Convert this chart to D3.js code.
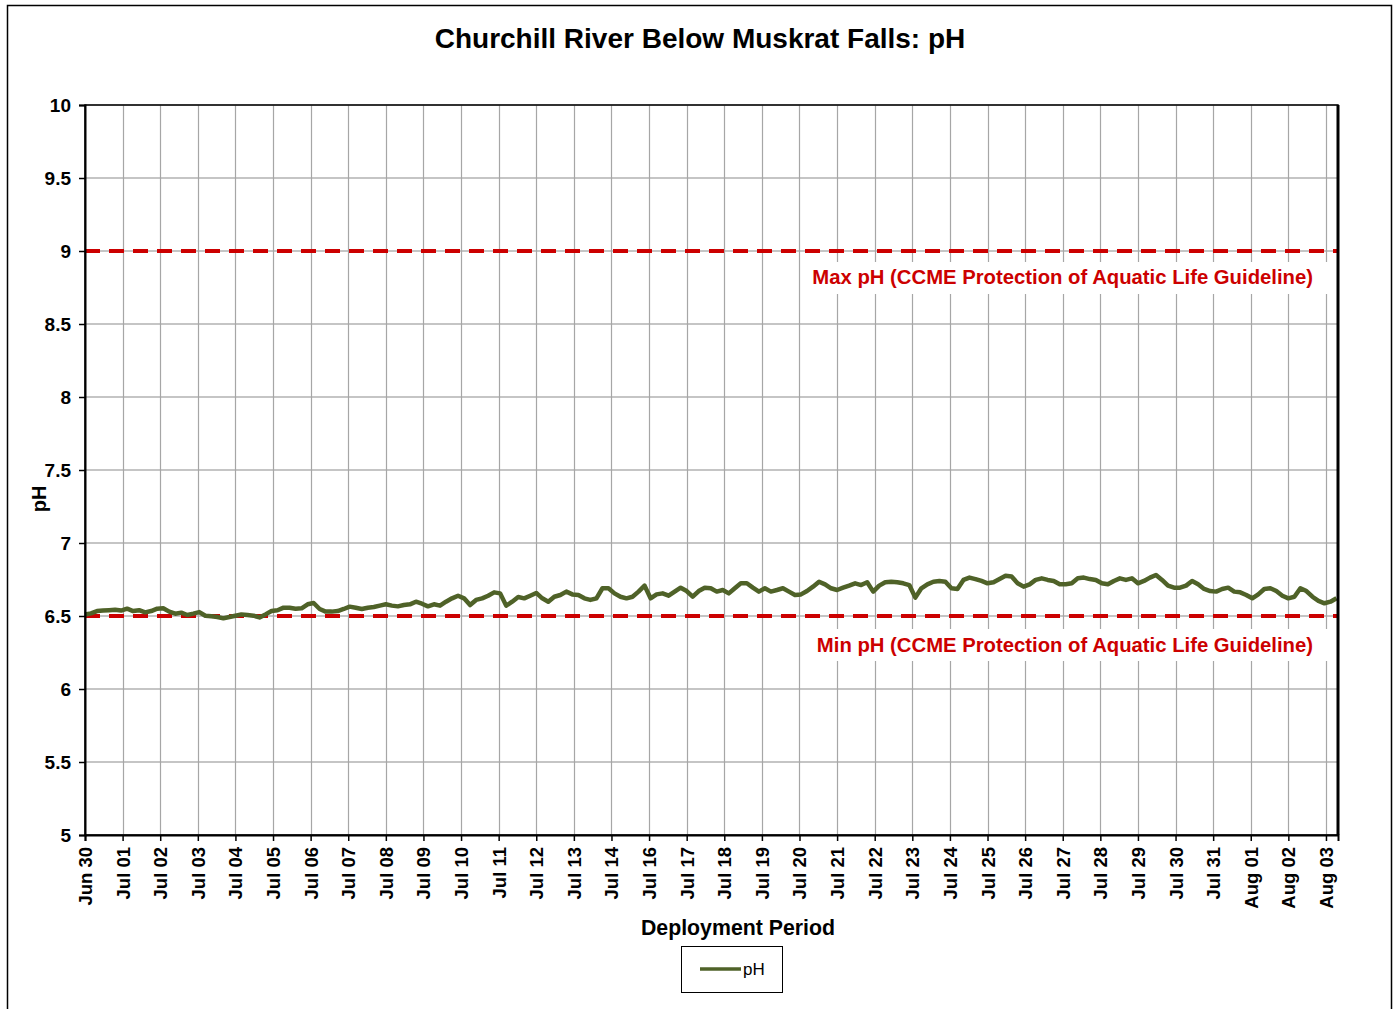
<!DOCTYPE html>
<html>
<head>
<meta charset="utf-8">
<script src="https://cdn.jsdelivr.net/npm/d3@7"></script>
<style>
  html, body { margin: 0; padding: 0; background: #fff; }
  svg { display: block; font-family: "Liberation Sans", Arial, sans-serif; }
</style>
</head>
<body>
<svg id="chart" width="1397" height="1009"></svg>
<script>
// Category labels along the time axis, one every 25 hourly readings
const tickLabels = [
  "Jun 30", "Jul 01", "Jul 02", "Jul 03", "Jul 04", "Jul 05", "Jul 06", "Jul 07",
  "Jul 08", "Jul 09", "Jul 10", "Jul 11", "Jul 12", "Jul 13", "Jul 14", "Jul 16",
  "Jul 17", "Jul 18", "Jul 19", "Jul 20", "Jul 21", "Jul 22", "Jul 23", "Jul 24",
  "Jul 25", "Jul 26", "Jul 27", "Jul 28", "Jul 29", "Jul 30", "Jul 31", "Aug 01",
  "Aug 02", "Aug 03"
];
const hoursPerTick = 25;
const hoursPerReading = 4;
const totalHours = 833;

// pH readings, one every 4 hours from the start of deployment
const phValues = [
  6.510, 6.518, 6.534, 6.537, 6.540, 6.543, 6.537, 6.550, 6.534, 6.540, 6.525, 6.534,
  6.550, 6.553, 6.530, 6.516, 6.523, 6.507, 6.516, 6.527, 6.502, 6.498, 6.493, 6.484,
  6.493, 6.502, 6.511, 6.507, 6.502, 6.490, 6.511, 6.534, 6.539, 6.557, 6.557, 6.550,
  6.553, 6.580, 6.589, 6.548, 6.530, 6.530,
  6.534, 6.548, 6.564, 6.557, 6.548, 6.557, 6.562, 6.571, 6.580, 6.571, 6.566, 6.575,
  6.580, 6.598, 6.584, 6.566, 6.580, 6.571, 6.598, 6.621, 6.639, 6.621, 6.575, 6.610,
  6.621, 6.639, 6.662, 6.655, 6.571, 6.598, 6.630, 6.621, 6.639, 6.658, 6.621, 6.598,
  6.632, 6.644, 6.667, 6.648, 6.644, 6.621,
  6.610, 6.621, 6.690, 6.690, 6.655, 6.632, 6.621, 6.632, 6.667, 6.708, 6.621, 6.648,
  6.655, 6.639, 6.667, 6.694, 6.671, 6.632, 6.671, 6.694, 6.690, 6.667, 6.678, 6.655,
  6.690, 6.724, 6.724, 6.694, 6.667, 6.690, 6.667, 6.678, 6.690, 6.667, 6.644, 6.648,
  6.671, 6.701, 6.735, 6.717, 6.690,
  6.678, 6.694, 6.708, 6.724, 6.712, 6.731, 6.667, 6.708, 6.731, 6.735, 6.731, 6.724,
  6.712, 6.626, 6.690, 6.717, 6.735, 6.740, 6.735, 6.690, 6.685, 6.747, 6.763, 6.753,
  6.740, 6.724, 6.731, 6.753, 6.776, 6.770, 6.724, 6.701, 6.717, 6.747, 6.758, 6.747,
  6.740, 6.717, 6.717, 6.724, 6.758, 6.763,
  6.753, 6.747, 6.724, 6.717, 6.740, 6.758, 6.747, 6.758, 6.724, 6.740, 6.763, 6.781,
  6.747, 6.708, 6.694, 6.694, 6.708, 6.740, 6.717, 6.685, 6.671, 6.667, 6.685, 6.694,
  6.667, 6.662, 6.644, 6.621, 6.648, 6.685, 6.690, 6.671, 6.639, 6.621, 6.632, 6.690,
  6.671, 6.632, 6.603, 6.587, 6.598, 6.621
];

const yTicks = [5, 5.5, 6, 6.5, 7, 7.5, 8, 8.5, 9, 9.5, 10];
const guideMax = 9;
const guideMin = 6.5;
const guideMaxLabel = "Max pH (CCME Protection of Aquatic Life Guideline)";
const guideMinLabel = "Min pH (CCME Protection of Aquatic Life Guideline)";
const titleText = "Churchill River Below Muskrat Falls: pH";
const xTitle = "Deployment Period";
const yTitle = "pH";
const seriesName = "pH";

const svg = d3.select("#chart");
const plot = { left: 85, right: 1338, top: 105, bottom: 835 };

const x = d3.scaleLinear().domain([0, totalHours]).range([plot.left, plot.right]);
const y = d3.scaleLinear().domain([5, 10]).range([plot.bottom, plot.top]);

const lineColor = "#4f6228";
const guideColor = "#cc0000";

// outer chart frame
svg.append("rect")
  .attr("x", 7.5).attr("y", 5.5)
  .attr("width", 1384).attr("height", 1012)
  .attr("fill", "#fff").attr("stroke", "#000").attr("stroke-width", 1.5);

// title
svg.append("text")
  .attr("x", 700).attr("y", 48)
  .attr("text-anchor", "middle")
  .attr("font-size", 28).attr("font-weight", "bold")
  .text(titleText);

const tickHours = tickLabels.map((d, i) => i * hoursPerTick);

// gridlines
const grid = svg.append("g");
grid.selectAll("line.h").data(yTicks).join("line")
  .attr("x1", plot.left).attr("x2", plot.right)
  .attr("y1", d => y(d)).attr("y2", d => y(d))
  .attr("stroke", "#8c8c8c").attr("stroke-width", 1.2);
grid.selectAll("line.v").data(tickHours.slice(1)).join("line")
  .attr("x1", d => Math.round(x(d)) + 0.5).attr("x2", d => Math.round(x(d)) + 0.5)
  .attr("y1", plot.top).attr("y2", plot.bottom)
  .attr("stroke", "#a6a6a6").attr("stroke-width", 1.2);

// guideline lines
const guides = svg.append("g");
guides.selectAll("line").data([guideMax, guideMin]).join("line")
  .attr("x1", plot.left).attr("x2", plot.right)
  .attr("y1", d => y(d)).attr("y2", d => y(d))
  .attr("stroke", guideColor).attr("stroke-width", 4)
  .attr("stroke-dasharray", "15,9");

// guideline labels on white boxes
const guideLabels = [
  { v: guideMax, text: guideMaxLabel, dy: 33, boxTop: 11 },
  { v: guideMin, text: guideMinLabel, dy: 36, boxTop: 13 }
];
guideLabels.forEach(g => {
  const grp = svg.append("g");
  const box = grp.append("rect").attr("fill", "#fff");
  const t = grp.append("text")
    .attr("x", 1313).attr("y", y(g.v) + g.dy)
    .attr("text-anchor", "end")
    .attr("font-size", 20.3).attr("font-weight", "bold")
    .attr("fill", guideColor)
    .text(g.text);
  const bb = t.node().getBBox();
  box.attr("x", bb.x - 8).attr("y", y(g.v) + g.boxTop)
    .attr("width", plot.right - (bb.x - 8)).attr("height", 32);
});

// data line
const line = d3.line()
  .x((d, i) => x(i * hoursPerReading))
  .y(d => y(d));
svg.append("path")
  .datum(phValues)
  .attr("d", line)
  .attr("fill", "none")
  .attr("stroke", lineColor)
  .attr("stroke-width", 4.5)
  .attr("stroke-linejoin", "round");

// plot border
svg.append("rect")
  .attr("x", plot.left).attr("y", plot.top)
  .attr("width", plot.right - plot.left).attr("height", plot.bottom - plot.top)
  .attr("fill", "none").attr("stroke", "#000").attr("stroke-width", 1.5);
svg.append("line")
  .attr("x1", plot.right).attr("x2", plot.right)
  .attr("y1", plot.top).attr("y2", plot.bottom)
  .attr("stroke", "#000").attr("stroke-width", 3);

// y axis
const yAxis = d3.axisLeft(y).tickValues(yTicks).tickSize(6).tickPadding(8)
  .tickFormat(d => d3.format("~g")(d));
const yg = svg.append("g").attr("transform", `translate(${plot.left},0)`).call(yAxis);
yg.select(".domain").attr("stroke", "#000").attr("stroke-width", 2);
yg.selectAll(".tick line").attr("stroke", "#000").attr("stroke-width", 1.5);
yg.selectAll(".tick text")
  .attr("font-size", 19).attr("font-weight", "bold")
  .attr("font-family", "Liberation Sans, Arial, sans-serif").attr("fill", "#000");

// x axis
const xAxis = d3.axisBottom(x).tickValues(tickHours).tickSize(6)
  .tickFormat((d, i) => tickLabels[i]);
const xg = svg.append("g").attr("transform", `translate(0,${plot.bottom})`).call(xAxis);
xg.select(".domain").attr("stroke", "#000").attr("stroke-width", 2);
xg.selectAll(".tick line").attr("stroke", "#000").attr("stroke-width", 1.5);
xg.selectAll(".tick text")
  .attr("font-size", 18.5).attr("font-weight", "bold")
  .attr("font-family", "Liberation Sans, Arial, sans-serif").attr("fill", "#000")
  .attr("text-anchor", "end")
  .attr("dy", "0.35em")
  .attr("transform", "translate(0,12) rotate(-90)")
  .attr("x", 0).attr("y", 0);

// axis titles
svg.append("text")
  .attr("x", 738).attr("y", 935)
  .attr("text-anchor", "middle")
  .attr("font-size", 21.3).attr("font-weight", "bold")
  .text(xTitle);
svg.append("text")
  .attr("transform", "translate(46,499) rotate(-90)")
  .attr("text-anchor", "middle")
  .attr("font-size", 20).attr("font-weight", "bold")
  .text(yTitle);

// legend
const lg = svg.append("g");
lg.append("rect")
  .attr("x", 681.5).attr("y", 946.5).attr("width", 101).attr("height", 46)
  .attr("fill", "#fff").attr("stroke", "#000").attr("stroke-width", 1);
lg.append("line")
  .attr("x1", 700).attr("x2", 741).attr("y1", 969).attr("y2", 969)
  .attr("stroke", lineColor).attr("stroke-width", 3.5);
lg.append("text")
  .attr("x", 743).attr("y", 975)
  .attr("font-size", 17)
  .text(seriesName);
</script>
</body>
</html>
